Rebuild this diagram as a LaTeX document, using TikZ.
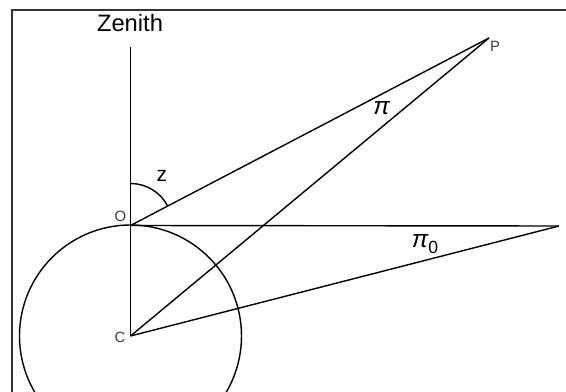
\documentclass[tikz,border=0pt]{standalone}
\usepackage{fontspec}
\setmainfont{Liberation Sans}
\usetikzlibrary{positioning}

\begin{document}
\begin{tikzpicture}[x=0.02cm,y=-0.02cm]
\tikzstyle{line} = [draw, line width=0.8pt];
\tikzstyle{frame} = [draw=black!80, line width=0.8pt];
\tikzstyle{pointlabel} = [font=\fontsize{8.5}{9}\selectfont, text=black!75, inner sep=0pt];
\tikzstyle{anglelabel} = [font=\fontsize{12}{14}\selectfont, inner sep=0pt];
\tikzstyle{pilabel} = [font=\fontsize{14}{16}\selectfont\itshape, inner sep=0pt];

\useasboundingbox (0,0) rectangle (566,392);
\clip (0,0) rectangle (566,392);
\path[frame] (12,10) rectangle (590,410);

% points of the figure
\coordinate (O) at (130.5,225.5);
\coordinate (C) at (130.5,336);
\coordinate (P) at (489,38);
\coordinate (H) at (559,226);
\coordinate (top) at (130.5,47);

\node[font=\fontsize{13.5}{15}\selectfont, inner sep=0pt] (zenith) at (130,23) {Zenith};
\node[pointlabel] (labO) at (120.5,216) {O};
\node[pointlabel] (labC) at (120,337) {C};
\node[pointlabel] (labP) at (495,46.5) {P};

\tikzstyle{every path}=[line]
	\path (C) circle[radius=111];
	\path (top) -- (C);
	\path (O) -- (P);
	\path (C) -- (P);
	\path (O) -- (H);
	\path (C) -- (H);
	\path (O) ++(0,-42) arc[start angle=-90, end angle=-27.6, radius=42];

\node[anglelabel] (z) at (162,176) {z};
\node[pilabel] (pi) at (381.5,108) {π};
\node[pilabel] (pi0) at (425,244) {π\raisebox{-0.25em}{\upshape\fontsize{10}{12}\selectfont 0}};
\end{tikzpicture}
\end{document}
